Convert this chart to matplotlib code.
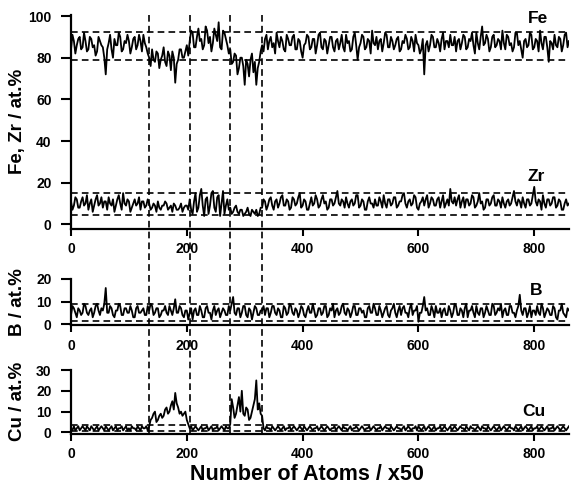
import numpy as np
import matplotlib
matplotlib.use("Agg")
import matplotlib.pyplot as plt
from matplotlib.lines import Line2D
from matplotlib.transforms import blended_transform_factory

plt.rcParams['font.family'] = ['Liberation Sans', 'DejaVu Sans']
plt.rcParams['font.weight'] = 'bold'

# profile position in blocks of 50 atoms
x = np.arange(0, 860.1, 2.5)

fe = [84, 91, 88, 82, 86, 89, 90, 84, 85, 92, 88, 83, 84, 90, 89, 85, 86, 81, 83, 90,
      88, 86, 85, 80, 72, 84, 87, 91, 84, 80, 89, 86, 86, 92, 90, 83, 84, 88, 87, 91,
      88, 82, 85, 89, 90, 84, 86, 91, 88, 83, 91, 87, 85, 82,
      80, 76, 84, 79, 78, 83, 82, 75, 79, 81, 85, 78, 76, 83, 81, 74, 83, 80, 68, 77,
      79, 84, 84, 80, 80, 83, 86, 81,
      88, 93, 92, 85, 85, 90, 94, 88, 89, 84, 86, 95, 93, 87, 90, 83, 87, 94, 91, 88,
      97, 85, 84, 93, 92, 89, 86, 82,
      84, 77, 78, 82, 81, 72, 75, 80, 80, 76, 67, 79, 77, 71, 79, 82, 73, 78, 67, 75,
      78, 83,
      86, 83, 89, 91, 84, 88, 90, 85, 87, 82, 92, 88, 85, 90, 88, 84, 83, 91, 89, 86,
      86, 90, 91, 84, 84, 89, 88, 83, 80, 86, 87, 91, 90, 84, 85, 89, 89, 82, 86, 91,
      92, 85, 84, 89, 88, 82, 86, 90, 90, 85, 83, 88, 89, 84, 87, 91, 85, 83, 91, 87,
      88, 83, 84, 90, 92, 86, 79, 85, 87, 91, 90, 84, 85, 89, 88, 82, 93, 87, 86, 90,
      84, 88, 89, 83, 87, 92, 91, 85, 85, 90, 88, 84, 86, 89, 90, 83, 84, 88, 87, 91,
      89, 84, 85, 90, 88, 83, 91, 87, 86, 82, 84, 89, 72, 86, 88, 83, 86, 91, 90, 85,
      85, 89, 87, 83, 89, 92, 84, 88, 88, 85, 91, 86, 86, 90, 83, 88, 89, 84, 87, 91,
      90, 84, 85, 89, 88, 92, 86, 82, 92, 87, 84, 90, 95, 86, 87, 91, 89, 83, 85, 90,
      91, 85, 86, 89, 88, 84, 93, 87, 84, 91, 90, 86, 87, 83, 85, 92, 92, 86, 88, 84,
      80, 88, 89, 85, 86, 92, 91, 84, 85, 89, 88, 83, 93, 87, 84, 90, 90, 85, 78, 88,
      87, 84, 91, 86, 85, 90, 89, 83, 86, 91, 92, 85, 88]

zr = [11, 7, 9, 13, 12, 8, 8, 11, 13, 9, 10, 14, 7, 10, 12, 6, 9, 12, 14, 9,
      10, 13, 8, 11, 11, 7, 13, 10, 9, 12, 6, 9, 12, 14, 10, 7, 15, 10, 9, 12,
      11, 6, 8, 10, 12, 9, 10, 13, 7, 11, 11, 8, 9, 12,
      10, 7, 8, 10, 9, 6, 11, 8, 7, 9, 9, 11, 10, 7, 8, 9, 6, 10, 9, 7,
      7, 8, 10, 6, 8, 9, 9, 7,
      12, 7, 5, 11, 15, 6, 8, 14, 17, 9, 4, 12, 13, 5, 9, 15, 16, 8, 6, 13,
      14, 4, 10, 16, 5, 9, 12, 7,
      8, 5, 6, 8, 9, 6, 5, 7, 7, 4, 5, 6, 8, 5, 4, 7, 6, 5, 7, 4,
      5, 8,
      8, 12, 11, 7, 9, 12, 13, 9, 7, 11, 12, 8, 10, 13, 14, 9, 9, 12, 11, 7,
      8, 13, 12, 9, 10, 13, 15, 8, 9, 12, 11, 7, 7, 10, 13, 9, 10, 14, 12, 8,
      9, 12, 14, 10, 11, 7, 8, 12, 12, 9, 10, 13, 16, 10, 9, 12, 11, 8, 13, 10,
      8, 11, 12, 9, 10, 14, 14, 8, 9, 12, 11, 7, 7, 11, 13, 10, 10, 8, 12, 9,
      9, 13, 11, 8, 14, 10, 8, 12, 12, 9, 10, 13, 13, 8, 9, 11, 11, 14, 15, 10,
      8, 11, 12, 9, 10, 14, 13, 8, 7, 10, 11, 13, 9, 12, 14, 8, 10, 13, 12, 9,
      9, 12, 13, 8, 11, 14, 8, 10, 12, 9, 17, 11, 10, 13, 9, 12, 14, 8, 11, 13,
      8, 12, 12, 9, 10, 14, 13, 8, 9, 11, 15, 10, 11, 7, 8, 12, 12, 9, 10, 13,
      14, 9, 9, 12, 11, 8, 13, 10, 8, 11, 12, 9, 10, 13, 16, 11, 9, 12, 11, 8,
      13, 10, 8, 12, 12, 9, 10, 14, 18, 11, 9, 12, 11, 7, 14, 10, 8, 12, 12, 9,
      10, 13, 13, 8, 9, 12, 11, 7, 7, 10, 12, 9, 10]

b = [4, 8, 7, 5, 3, 7, 6, 4, 5, 9, 8, 5, 4, 6, 7, 3, 5, 8, 9, 6,
     4, 7, 6, 9, 16, 5, 5, 8, 7, 4, 3, 6, 6, 9, 8, 4, 4, 7, 7, 5,
     5, 8, 6, 3, 3, 7, 8, 5, 5, 6, 7, 4, 4, 8,
     6, 9, 8, 4, 5, 7, 7, 3, 4, 6, 6, 8, 5, 4, 8, 6, 4, 7, 11, 5,
     5, 8, 7, 4, 3, 6, 6, 2,
     5, 7, 2, 6, 7, 4, 4, 8, 6, 3, 3, 7, 8, 5, 5, 2, 6, 8, 4, 6,
     7, 3, 5, 7, 6, 4, 4, 8,
     6, 9, 12, 5, 4, 7, 7, 3, 5, 8, 8, 4, 3, 7, 6, 2, 5, 8, 7, 4,
     4, 6,
     6, 8, 4, 7, 7, 3, 5, 8, 8, 5, 4, 7, 6, 3, 3, 8, 7, 4, 5, 9,
     8, 5, 4, 7, 6, 3, 5, 8, 7, 4, 3, 6, 8, 5, 5, 9, 6, 3, 4, 7,
     7, 4, 5, 8, 8, 3, 4, 7, 6, 9, 3, 6, 7, 4, 5, 8, 9, 5, 4, 7,
     6, 3, 5, 8, 8, 4, 4, 7, 7, 5, 6, 3, 3, 7, 8, 5, 5, 9, 7, 4,
     4, 8, 6, 3, 5, 7, 8, 4, 3, 6, 7, 9, 5, 3, 6, 8, 4, 7, 8, 5,
     5, 3, 7, 9, 4, 6, 6, 8, 1, 5, 5, 8, 12, 6, 7, 4, 4, 8, 6, 3,
     8, 5, 5, 7, 3, 6, 7, 4, 4, 8, 6, 3, 5, 9, 8, 4, 4, 7, 6, 3,
     7, 9, 3, 6, 6, 8, 5, 3, 8, 5, 4, 7, 7, 3, 5, 8, 6, 4, 4, 9,
     8, 4, 5, 7, 6, 9, 3, 6, 7, 4, 4, 8, 8, 5, 5, 3, 6, 8, 13, 6,
     4, 7, 7, 3, 5, 8, 3, 6, 6, 4, 8, 5, 4, 9, 7, 3, 5, 7, 6, 4,
     4, 8, 7, 3, 2, 6, 6, 9, 5, 4, 3, 7, 6]

cu = [2, 1, 3, 1, 2, 3, 1, 2, 3, 2, 1, 3, 2, 1, 3, 2, 1, 2, 3, 1,
      2, 3, 2, 1, 3, 2, 1, 2, 3, 1, 2, 3, 1, 2, 2, 3, 1, 2, 3, 1,
      2, 1, 3, 2, 2, 1, 3, 2, 1, 3, 2, 2, 3, 1,
      3, 6, 7, 9, 10, 5, 6, 8, 9, 7, 8, 11, 12, 9, 10, 13, 15, 11, 19, 14,
      12, 9, 10, 8, 9, 10, 6, 4,
      2, 3, 1, 2, 3, 2, 1, 2, 3, 1, 2, 2, 3, 1, 2, 3, 1, 2, 2, 3,
      1, 2, 3, 2, 1, 3, 2, 2,
      4, 16, 12, 7, 9, 13, 17, 10, 20, 9, 8, 12, 11, 6, 7, 10, 13, 16, 25, 11,
      14, 9,
      8,
      2, 1, 3, 2, 2, 1, 3, 2, 1, 2, 3, 2, 1, 2, 3, 1, 2, 2, 3, 1,
      2, 3, 2, 1, 2, 3, 2, 1, 3, 2, 1, 2, 3, 2, 1, 2, 2, 3, 1, 2,
      3, 2, 1, 2, 3, 2, 1, 2, 2, 3, 1, 2, 3, 2, 1, 3, 2, 2, 1, 2,
      3, 1, 2, 2, 3, 2, 1, 2, 3, 2, 1, 2, 2, 3, 1, 2, 3, 2, 1, 2,
      2, 3, 1, 2, 3, 2, 2, 1, 3, 2, 1, 2, 3, 2, 2, 1, 2, 3, 1, 2,
      3, 2, 1, 2, 2, 3, 1, 3, 2, 1, 2, 3, 1, 2, 3, 2, 1, 2, 3, 1,
      2, 2, 3, 1, 2, 3, 2, 1, 2, 3, 1, 2, 3, 2, 1, 2, 3, 2, 2, 1,
      3, 2, 1, 3, 2, 2, 1, 2, 3, 2, 1, 3, 2, 2, 1, 3, 2, 1, 2, 3,
      2, 1, 2, 3, 1, 2, 3, 2, 1, 2, 3, 2, 2, 1, 3, 2, 1, 2, 3, 1,
      2, 3, 2, 1, 2, 3, 1, 2, 2, 3, 1, 2, 3, 2, 1, 2, 3, 1, 2, 2,
      3, 1, 2, 3, 2, 1, 2, 3, 2, 1, 2, 3]

# interface positions and composition bands
interfaces = [135, 205, 275, 330]
fe_band = [79, 92.5]
zr_band = [4.5, 15]
b_band = [1.5, 9]
cu_band = [0.8, 3.5]

W, H = 572, 488
fig = plt.figure(figsize=(W / 100, H / 100), dpi=100)

left = 71 / W
width = 498 / W
ax1 = fig.add_axes([left, 1 - 228.5 / H, width, 213.5 / H])
ax2 = fig.add_axes([left, 1 - 324.7 / H, width, 45.7 / H])
ax3 = fig.add_axes([left, 1 - 433.5 / H, width, 63.5 / H])

dash = dict(color='k', lw=1.2, ls=(0, (4, 2.5)))
trace = dict(color='k', lw=1.3)

def style(ax, ylim, yticks, ylabel):
    ax.set_xlim(0, 860)
    ax.set_ylim(*ylim)
    ax.set_yticks(yticks)
    ax.set_xticks([0, 200, 400, 600, 800])
    for s in ['top', 'right']:
        ax.spines[s].set_visible(False)
    for s in ['left', 'bottom']:
        ax.spines[s].set_linewidth(1.6)
    ax.tick_params(axis='y', length=7, width=1.5, pad=7, labelsize=10)
    ax.tick_params(axis='x', length=5, width=1.5, pad=5, labelsize=10)
    ax.set_ylabel(ylabel, fontsize=13.5, fontweight='bold')
    ax.yaxis.set_label_coords(-0.09, 0.5)
    for lab in ax.get_xticklabels() + ax.get_yticklabels():
        lab.set_fontweight('bold')

ax1.plot(x, fe, **trace)
ax1.plot(x, zr, **trace)
for v in fe_band + zr_band:
    ax1.axhline(v, **dash)
style(ax1, (-2, 100.5), [0, 20, 40, 60, 80, 100], 'Fe, Zr / at.%')
ax1.text(806, 99, 'Fe', ha='center', va='center', fontsize=12.5, fontweight='bold')
ax1.text(803, 23, 'Zr', ha='center', va='center', fontsize=12.5, fontweight='bold')

ax2.plot(x, b, **trace)
for v in b_band:
    ax2.axhline(v, **dash)
style(ax2, (-0.3, 20), [0, 10, 20], 'B / at.%')
ax2.text(804, 15, 'B', ha='center', va='center', fontsize=12.5, fontweight='bold')

ax3.plot(x, cu, **trace)
for v in cu_band:
    ax3.axhline(v, **dash)
style(ax3, (-0.5, 30), [0, 10, 20, 30], 'Cu / at.%')
ax3.text(800, 10, 'Cu', ha='center', va='center', fontsize=12.5, fontweight='bold')

# interface markers running through all three panels
trans = blended_transform_factory(ax1.transData, fig.transFigure)
for xv in interfaces:
    fig.add_artist(Line2D([xv, xv], [1 - 15 / H, 1 - 433.5 / H], transform=trans, **dash))

fig.text(307 / W, 1 - 475 / H, 'Number of Atoms / x50', ha='center', va='center',
         fontsize=15.5, fontweight='bold')

fig.savefig('out.png', dpi=100)
